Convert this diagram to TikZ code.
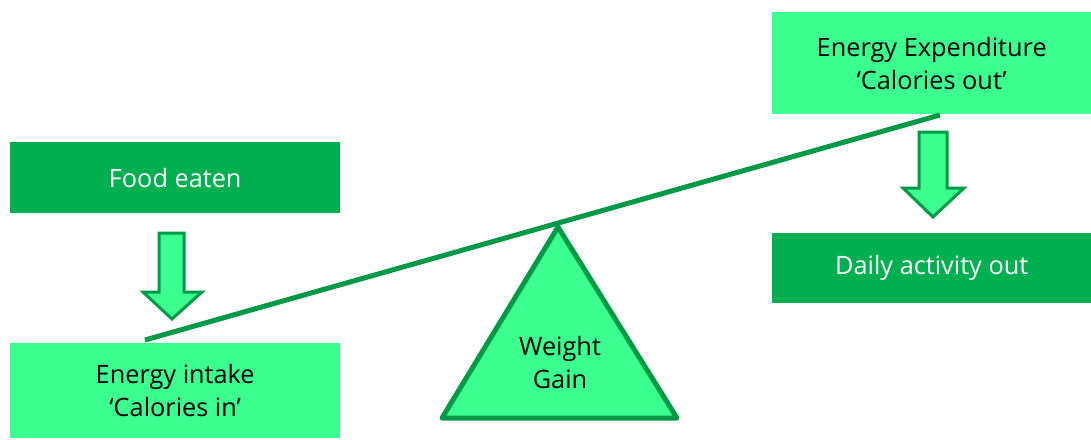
\documentclass[tikz,border=0pt]{standalone}
\usepackage{fontspec}
\setmainfont{Open Sans}
\definecolor{boxdark}{HTML}{00B050}
\definecolor{boxlight}{HTML}{3BFF8F}
\definecolor{edge}{HTML}{009A46}
\begin{document}
\begin{tikzpicture}[x=1pt,y=-1pt,
  label font/.style={font=\fontsize{25.3}{33}\selectfont},
  darkbox/.style={fill=boxdark,text=white,inner sep=0pt,anchor=north west,label font,align=center},
  lightbox/.style={fill=boxlight,text=black,inner sep=0pt,anchor=north west,label font,align=center},
  blockarrow/.style={draw=edge,fill=boxlight,line width=3pt,line join=miter}]
\useasboundingbox (0,0) rectangle (1091,439);

% boxes
\node[darkbox,minimum width=330pt,minimum height=71pt] (food) at (10,142) {Food eaten};
\node[lightbox,minimum width=330pt,minimum height=95pt] (intake) at (10,343) {Energy intake\\‘Calories in’};
\node[lightbox,minimum width=319pt,minimum height=102pt] (expend) at (772,12) {Energy Expenditure\\‘Calories out’};
\node[darkbox,minimum width=319pt,minimum height=70pt] (daily) at (772,233) {Daily activity out};

% fulcrum
\draw[draw=edge,fill=boxlight,line width=5pt,line join=round] (558,227) -- (677,418) -- (442,418) -- cycle;
\node[label font,align=center] (gain) at (560,363) {Weight\\Gain};

% beam
\coordinate (beamL) at (145,340);
\coordinate (beamR) at (940,115);
\draw[edge,line width=5pt] (beamL) -- (beamR);

% block arrows
\draw[blockarrow] (159,233) -- (184,233) -- (184,292) -- (202,292) -- (172,319) -- (143,292) -- (159,292) -- cycle;
\draw[blockarrow] (919,132) -- (947,132) -- (947,188) -- (964,188) -- (933,217) -- (903,188) -- (919,188) -- cycle;
\end{tikzpicture}
\end{document}
